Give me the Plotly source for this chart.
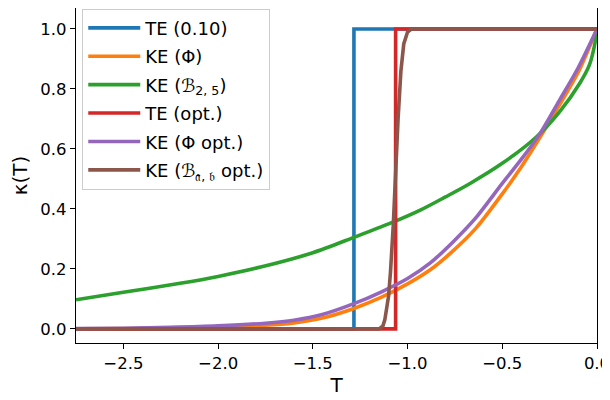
import plotly.graph_objects as go

# ---- data ----
te010_T = [-2.75, -1.283, -1.283, 0.0]
te010_k = [0.0, 0.0, 1.0, 1.0]

te_opt_T = [-2.75, -1.063, -1.063, 0.0]
te_opt_k = [0.0, 0.0, 1.0, 1.0]

ke_phi_T = [-2.75, -2.5, -2.25, -2.0, -1.75, -1.6, -1.45, -1.28, -1.14, -1.0, -0.88, -0.76,
            -0.64, -0.5, -0.4, -0.3, -0.2, -0.1, 0.0]
ke_phi_k = [0.0005, 0.001, 0.003, 0.006, 0.012, 0.02, 0.036, 0.069, 0.105, 0.15, 0.197, 0.26,
            0.335, 0.45, 0.54, 0.64, 0.745, 0.855, 1.0]

ke_phi_opt_T = [-2.75, -2.5, -2.25, -2.0, -1.75, -1.6, -1.45, -1.28, -1.14, -1.0, -0.88, -0.76,
                -0.64, -0.5, -0.4, -0.3, -0.2, -0.1, 0.0]
ke_phi_opt_k = [0.001, 0.002, 0.005, 0.01, 0.019, 0.029, 0.048, 0.085, 0.123, 0.168, 0.22, 0.29,
                0.37, 0.485, 0.565, 0.652, 0.76, 0.87, 1.0]

ke_b25_T = [-2.75, -2.5, -2.2, -2.0, -1.77, -1.5, -1.28, -1.1, -0.93, -0.8, -0.67, -0.5,
            -0.32, -0.2, -0.09, -0.04, -0.01, 0.0]
ke_b25_k = [0.097, 0.122, 0.152, 0.175, 0.207, 0.254, 0.306, 0.35, 0.397, 0.44, 0.485, 0.552,
            0.64, 0.722, 0.82, 0.88, 0.955, 1.0]

ke_bab_T = [-2.75, -1.15, -1.13, -1.12, -1.10, -1.09, -1.075, -1.065, -1.05, -1.035, -1.02,
            -1.0, -0.98, 0.0]
ke_bab_k = [0.0, 0.0, 0.01, 0.03, 0.11, 0.19, 0.35, 0.5, 0.7, 0.86, 0.95, 0.99, 1.0, 1.0]

series = [
    ("TE (0.10)", te010_T, te010_k, "#1f77b4", "linear"),
    ("KE (Φ)", ke_phi_T, ke_phi_k, "#ff7f0e", "spline"),
    ("KE (ℬ<sub>2, 5</sub>)", ke_b25_T, ke_b25_k, "#2ca02c", "spline"),
    ("TE (opt.)", te_opt_T, te_opt_k, "#d62728", "linear"),
    ("KE (Φ opt.)", ke_phi_opt_T, ke_phi_opt_k, "#9467bd", "spline"),
    ("KE (ℬ<sub>𝔞, 𝔟</sub> opt.)", ke_bab_T, ke_bab_k, "#8c564b", "linear"),
]

fig = go.Figure()
for i, (name, xs, ys, col, shape) in enumerate(series):
    line = dict(color=col, width=3.6, shape=shape)
    if shape == "spline":
        line["smoothing"] = 0.8
    fig.add_trace(go.Scatter(x=xs, y=ys, mode="lines", name=name, line=line,
                             legendgroup=f"g{i}"))

# the page body adds an 8px offset, so the figure is 8px smaller than the window
fig.update_layout(
    width=602, height=392,
    margin=dict(l=68, r=13, t=0, b=57, autoexpand=False),
    paper_bgcolor="white", plot_bgcolor="white",
    font=dict(family="DejaVu Sans", size=16.5, color="black"),
    showlegend=True,
    legend=dict(x=0.012, y=0.998, xanchor="left", yanchor="top",
                bgcolor="rgba(255,255,255,0.8)", bordercolor="#cccccc", borderwidth=1,
                font=dict(family="DejaVu Sans", size=18, color="black"),
                itemwidth=52, tracegroupgap=2),
    xaxis=dict(range=[-2.75, 0.0], tickvals=[-2.5, -2.0, -1.5, -1.0, -0.5, 0.0], tickformat=".1f",
               showgrid=False, zeroline=False, showline=True, linecolor="black", linewidth=1.2,
               mirror=False, ticks="outside", ticklen=5, tickwidth=1.2, tickcolor="black",
               ticklabeloverflow="allow",
               automargin=False, title=dict(text="T", standoff=4)),
    yaxis=dict(range=[-0.047, 1.07], tickvals=[0.0, 0.2, 0.4, 0.6, 0.8, 1.0], tickformat=".1f",
               showgrid=False, zeroline=False, showline=True, linecolor="black", linewidth=1.2,
               mirror=True, ticks="outside", ticklen=5, tickwidth=1.2, tickcolor="black",
               automargin=False, title=dict(text="κ(T)", standoff=8)),
)

fig.write_html("out.html")
